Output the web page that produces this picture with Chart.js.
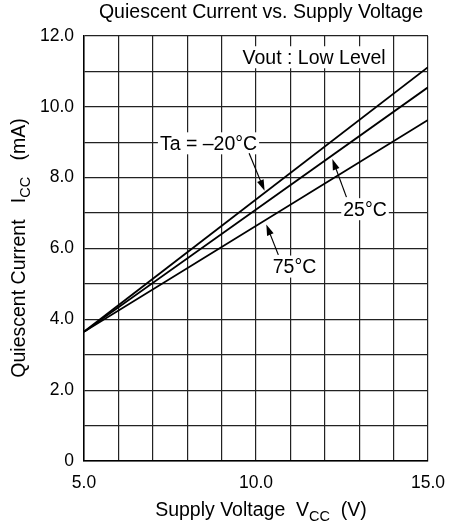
<!DOCTYPE html>
<html>
<head>
<meta charset="utf-8">
<script src="https://cdn.jsdelivr.net/npm/chart.js@4"></script>
<style>
  html, body { margin: 0; padding: 0; background: #fff; }
  #wrap { width: 457px; height: 530px; }
</style>
</head>
<body>
<div id="wrap"><canvas id="icc"></canvas></div>
<script>
// supply voltage (V) at which each curve is read
const vcc = [5, 15];
// quiescent current (mA) per ambient temperature
const iccM20 = [3.65, 11.12];
const icc25 = [3.65, 10.55];
const icc75 = [3.65, 9.63];
const seriesNames = ["Ta = –20°C", "25°C", "75°C"];
// tick labels
const xTickLabels = { 5: "5.0", 10: "10.0", 15: "15.0" };
const yTickLabels = { 0: "0", 2: "2.0", 4: "4.0", 6: "6.0", 8: "8.0", 10: "10.0", 12: "12.0" };

const FONT = "'Liberation Sans', Arial, sans-serif";
const BIG = 19.5, SUB = 14.5;

function pts(ys) {
    return vcc.map(function (x, i) { return { x: x, y: ys[i] }; });
}

// callouts: text centre and arrow, in data units
const callouts = [
    { text: seriesNames[0], at: [8.62, 8.97], from: [9.80, 8.69], to: [10.25, 7.63] },
    { text: seriesNames[1], at: [13.17, 7.11], from: [12.63, 7.45], to: [12.22, 8.53] },
    { text: seriesNames[2], at: [11.12, 5.49], from: [10.65, 5.82], to: [10.30, 6.68] },
    { text: "Vout : Low Level", at: [11.69, 11.40] }
];

function drawRich(ctx, parts, x, y) {
    // parts: [text, isSub]
    let total = 0;
    parts.forEach(function (p) {
        ctx.font = (p[1] ? SUB : BIG) + "px " + FONT;
        p.w = ctx.measureText(p[0]).width;
        total += p.w;
    });
    let cx = x - total / 2;
    parts.forEach(function (p) {
        ctx.font = (p[1] ? SUB : BIG) + "px " + FONT;
        ctx.fillText(p[0], cx, y + (p[1] ? 6 : 0));
        cx += p.w;
    });
}

const decor = {
    id: "decor",
    afterDatasetsDraw: function (chart) {
        const ctx = chart.ctx;
        const xs = chart.scales.x, ys = chart.scales.y;
        ctx.save();
        ctx.fillStyle = "#000";
        ctx.strokeStyle = "#000";
        ctx.textAlign = "center";
        ctx.textBaseline = "middle";
        ctx.font = BIG + "px " + FONT;
        callouts.forEach(function (c) {
            const px = xs.getPixelForValue(c.at[0]);
            const py = ys.getPixelForValue(c.at[1]);
            const w = ctx.measureText(c.text).width;
            ctx.fillStyle = "#fff";
            ctx.fillRect(px - w / 2 - 2, py - 11, w + 4, 22);
            ctx.fillStyle = "#000";
            ctx.fillText(c.text, px, py + 1);
            if (c.from) {
                const x1 = xs.getPixelForValue(c.from[0]), y1 = ys.getPixelForValue(c.from[1]);
                const x2 = xs.getPixelForValue(c.to[0]), y2 = ys.getPixelForValue(c.to[1]);
                const a = Math.atan2(y2 - y1, x2 - x1);
                ctx.lineWidth = 1.2;
                ctx.beginPath();
                ctx.moveTo(x1, y1);
                ctx.lineTo(x2 - 8 * Math.cos(a), y2 - 8 * Math.sin(a));
                ctx.stroke();
                ctx.beginPath();
                ctx.moveTo(x2, y2);
                ctx.lineTo(x2 - 11 * Math.cos(a) + 3.5 * Math.sin(a), y2 - 11 * Math.sin(a) - 3.5 * Math.cos(a));
                ctx.lineTo(x2 - 11 * Math.cos(a) - 3.5 * Math.sin(a), y2 - 11 * Math.sin(a) + 3.5 * Math.cos(a));
                ctx.closePath();
                ctx.fill();
            }
        });

        // title
        ctx.font = BIG + "px " + FONT;
        ctx.fillText("Quiescent Current vs. Supply Voltage", 261, 13);

        // x axis title
        ctx.textAlign = "left";
        drawRich(ctx, [["Supply Voltage  V", false], ["CC", true], ["  (V)", false]], 261, 511);

        // y axis title
        ctx.translate(20, 248);
        ctx.rotate(-Math.PI / 2);
        drawRich(ctx, [["Quiescent Current   I", false], ["CC", true], ["   (mA)", false]], 0, 0);
        ctx.restore();
    }
};

document.addEventListener("DOMContentLoaded", function () {

    const ctx = document.getElementById("icc").getContext("2d");

    const line = { borderColor: "#000", borderWidth: 1.8, pointRadius: 0, showLine: true, fill: false, tension: 0 };

    new Chart(ctx, {
        type: "scatter",
        data: {
            datasets: [
                Object.assign({ label: seriesNames[0], data: pts(iccM20) }, line),
                Object.assign({ label: seriesNames[1], data: pts(icc25) }, line),
                Object.assign({ label: seriesNames[2], data: pts(icc75) }, line)
            ]
        },
        options: {
            responsive: true,
            maintainAspectRatio: false,
            animation: false,
            layout: { padding: { top: 36, right: 20, left: 0, bottom: 0 } },
            plugins: {
                legend: { display: false },
                tooltip: { enabled: false }
            },
            scales: {
                x: {
                    type: "linear",
                    min: 5,
                    max: 15,
                    afterFit: function (s) { s.height = 69; },
                    border: { color: "#000", width: 1.5 },
                    grid: { color: "#222", lineWidth: 1.2, drawTicks: false },
                    ticks: {
                        stepSize: 1,
                        autoSkip: false,
                        maxRotation: 0,
                        padding: 12,
                        color: "#000",
                        font: { family: FONT, size: 17.5 },
                        callback: function (v) { return xTickLabels[v] || ""; }
                    }
                },
                y: {
                    min: 0,
                    max: 12,
                    afterFit: function (s) { s.width = 84; },
                    border: { color: "#000", width: 1.5 },
                    grid: { color: "#222", lineWidth: 1.2, drawTicks: false },
                    ticks: {
                        stepSize: 1,
                        autoSkip: false,
                        padding: 10,
                        color: "#000",
                        font: { family: FONT, size: 17.5 },
                        callback: function (v) { return yTickLabels[v] || ""; }
                    }
                }
            }
        },
        plugins: [decor]
    });

});
</script>
</body>
</html>
